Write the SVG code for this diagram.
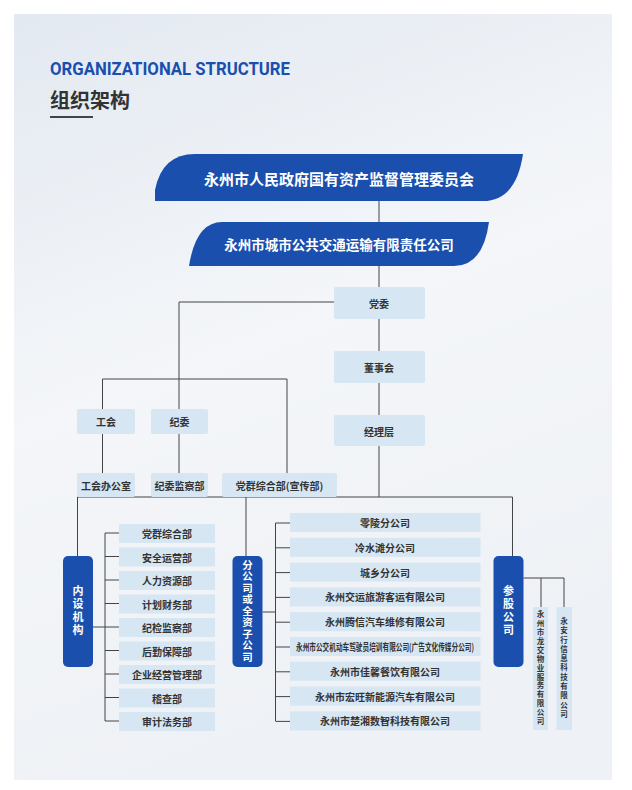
<svg xmlns="http://www.w3.org/2000/svg" width="632" height="790" viewBox="0 0 632 790">
<defs>
<linearGradient id="bg" x1="0" y1="0" x2="0.3" y2="1">
<stop offset="0" stop-color="#e3e9f1"/><stop offset="0.5" stop-color="#f4f6f9"/><stop offset="1" stop-color="#eef1f5"/>
</linearGradient>
<style>
.t{font-family:"Noto Sans CJK SC","Noto Sans",sans-serif;font-weight:700;text-anchor:middle;dominant-baseline:central}
.v{font-family:"Noto Sans CJK SC","Noto Sans",sans-serif;font-weight:700;text-anchor:middle;writing-mode:vertical-rl;fill:#333}
.lb{fill:#d6e6f2;}
.dk{fill:#333;font-size:10px}
.bl{fill:#1a4fae;}
.w{fill:#fff}
.ln{stroke:#444;stroke-width:1;fill:none}
</style>
</defs>
<rect width="632" height="790" fill="#fff"/>
<rect x="14" y="14" width="598" height="766" fill="url(#bg)"/>
<text x="50" y="75" font-family="Roboto,'Liberation Sans',sans-serif" font-weight="700" font-size="18" fill="#1a4fae" textLength="240" lengthAdjust="spacingAndGlyphs">ORGANIZATIONAL STRUCTURE</text>
<text x="50" y="108" font-family="'Noto Sans CJK SC',sans-serif" font-weight="700" font-size="20" fill="#333">组织架构</text>
<rect x="50" y="116" width="43" height="2" fill="#444"/>
<g id="connectors" class="ln">
<path d="M379 201V222M379 266V415M379 446V497M77.5 556V497H512.5V556M246 497V556"/>
<path d="M334 302H179V409M102.5 409V379H287V473M179 434V473M102.5 434V473"/>
<path d="M93 627H105M105 533V721M105 533H119M105 556.5H119M105 580H119M105 603.5H119M105 627H119M105 650.5H119M105 674H119M105 697.5H119M105 721H119"/>
<path d="M262.5 612H275.5M275.5 523V721M275.5 523H290M275.5 547.8H290M275.5 572.6H290M275.5 597.4H290M275.5 622.2H290M275.5 647H290M275.5 671.8H290M275.5 696.6H290M275.5 721.4H290"/>
<path d="M523.5 578H564V607M541 578V607"/>
</g>
<g id="sasac"><path class="bl" d="M155 201V190Q162 154 195 154H523Q516 201 483 201Z"/><text class="t w" x="339" y="178" font-size="15">永州市人民政府国有资产监督管理委员会</text></g>
<g id="company"><path class="bl" d="M189 266Q196 222 222 222H489Q483 266 454 266Z"/><text class="t w" x="339" y="244" font-size="13.5">永州市城市公共交通运输有限责任公司</text></g>
<g id="dangwei"><rect class="lb" x="334" y="287" width="91" height="32" rx="2"/><text class="t dk" x="379" y="303">党委</text></g>
<g id="dongshi"><rect class="lb" x="334" y="351" width="91" height="32" rx="2"/><text class="t dk" x="379" y="367">董事会</text></g>
<g id="jingli"><rect class="lb" x="334" y="415" width="91" height="31" rx="2"/><text class="t dk" x="379" y="431">经理层</text></g>
<g id="gonghui"><rect class="lb" x="77" y="409" width="58" height="25" rx="2"/><text class="t dk" x="106" y="421.5">工会</text></g>
<g id="jiwei"><rect class="lb" x="151" y="409" width="57" height="25" rx="2"/><text class="t dk" x="179.5" y="421.5">纪委</text></g>
<g id="ghbgs"><rect class="lb" x="77" y="473" width="58" height="24" rx="2"/><text class="t dk" x="106" y="485">工会办公室</text></g>
<g id="jwjcb"><rect class="lb" x="151" y="473" width="57" height="24" rx="2"/><text class="t dk" x="179.5" y="485">纪委监察部</text></g>
<g id="dqzhb"><rect class="lb" x="222" y="473" width="115" height="24" rx="2"/><text class="t dk" x="279.5" y="485">党群综合部(宣传部)</text></g>
<g id="neishe"><rect class="bl" x="63" y="556" width="30" height="111" rx="5"/><text class="v" x="78" y="611.5" font-size="11" fill="#fff" style="fill:#fff" letter-spacing="2">内设机构</text></g>
<g id="fengongsi"><rect class="bl" x="232.5" y="556" width="30" height="111" rx="5"/><text class="v" x="247.5" y="611.5" font-size="10.5" style="fill:#fff" letter-spacing="1">分公司或全资子公司</text></g>
<g id="cangu"><rect class="bl" x="493.5" y="556" width="30" height="111" rx="5"/><text class="v" x="508.5" y="611.5" font-size="11" style="fill:#fff" letter-spacing="2">参股公司</text></g>
<g id="depts">
<rect class="lb" x="119" y="524" width="96" height="19"/><text class="t dk" x="167" y="533.5">党群综合部</text>
<rect class="lb" x="119" y="547.5" width="96" height="19"/><text class="t dk" x="167" y="557">安全运营部</text>
<rect class="lb" x="119" y="571" width="96" height="19"/><text class="t dk" x="167" y="580.5">人力资源部</text>
<rect class="lb" x="119" y="594.5" width="96" height="19"/><text class="t dk" x="167" y="604">计划财务部</text>
<rect class="lb" x="119" y="618" width="96" height="19"/><text class="t dk" x="167" y="627.5">纪检监察部</text>
<rect class="lb" x="119" y="641.5" width="96" height="19"/><text class="t dk" x="167" y="651">后勤保障部</text>
<rect class="lb" x="119" y="665" width="96" height="19"/><text class="t dk" x="167" y="674.5">企业经营管理部</text>
<rect class="lb" x="119" y="688.5" width="96" height="19"/><text class="t dk" x="167" y="698">稽查部</text>
<rect class="lb" x="119" y="712" width="96" height="19"/><text class="t dk" x="167" y="721.5">审计法务部</text>
</g>
<g id="subs">
<rect class="lb" x="290" y="513" width="190.5" height="19"/><text class="t dk" x="385" y="522.5">零陵分公司</text>
<rect class="lb" x="290" y="537.8" width="190.5" height="19"/><text class="t dk" x="385" y="547.3">冷水滩分公司</text>
<rect class="lb" x="290" y="562.6" width="190.5" height="19"/><text class="t dk" x="385" y="572.1">城乡分公司</text>
<rect class="lb" x="290" y="587.4" width="190.5" height="19"/><text class="t dk" x="385" y="596.9">永州交运旅游客运有限公司</text>
<rect class="lb" x="290" y="612.2" width="190.5" height="19"/><text class="t dk" x="385" y="621.7">永州腾信汽车维修有限公司</text>
<rect class="lb" x="290" y="637" width="190.5" height="19"/><text class="t dk" x="385" y="646.5" font-size="7.5" textLength="178" lengthAdjust="spacingAndGlyphs">永州市公交机动车驾驶员培训有限公司(广告文化传媒分公司)</text>
<rect class="lb" x="290" y="661.8" width="190.5" height="19"/><text class="t dk" x="385" y="671.3">永州市佳馨餐饮有限公司</text>
<rect class="lb" x="290" y="686.6" width="190.5" height="19"/><text class="t dk" x="385" y="696.1">永州市宏旺新能源汽车有限公司</text>
<rect class="lb" x="290" y="711.4" width="190.5" height="19"/><text class="t dk" x="385" y="720.9">永州市楚湘数智科技有限公司</text>
</g>
<g id="longjiao"><rect class="lb" x="533" y="607" width="15" height="123"/><text class="v" x="540.5" y="668.5" font-size="7.5" letter-spacing="1.4">永州市龙交物业服务有限公司</text></g>
<g id="yongan"><rect class="lb" x="556.5" y="607" width="15.5" height="123"/><text class="v" x="564" y="668.5" font-size="7.5" letter-spacing="1.8">永安行信息科技有限公司</text></g>
</svg>
